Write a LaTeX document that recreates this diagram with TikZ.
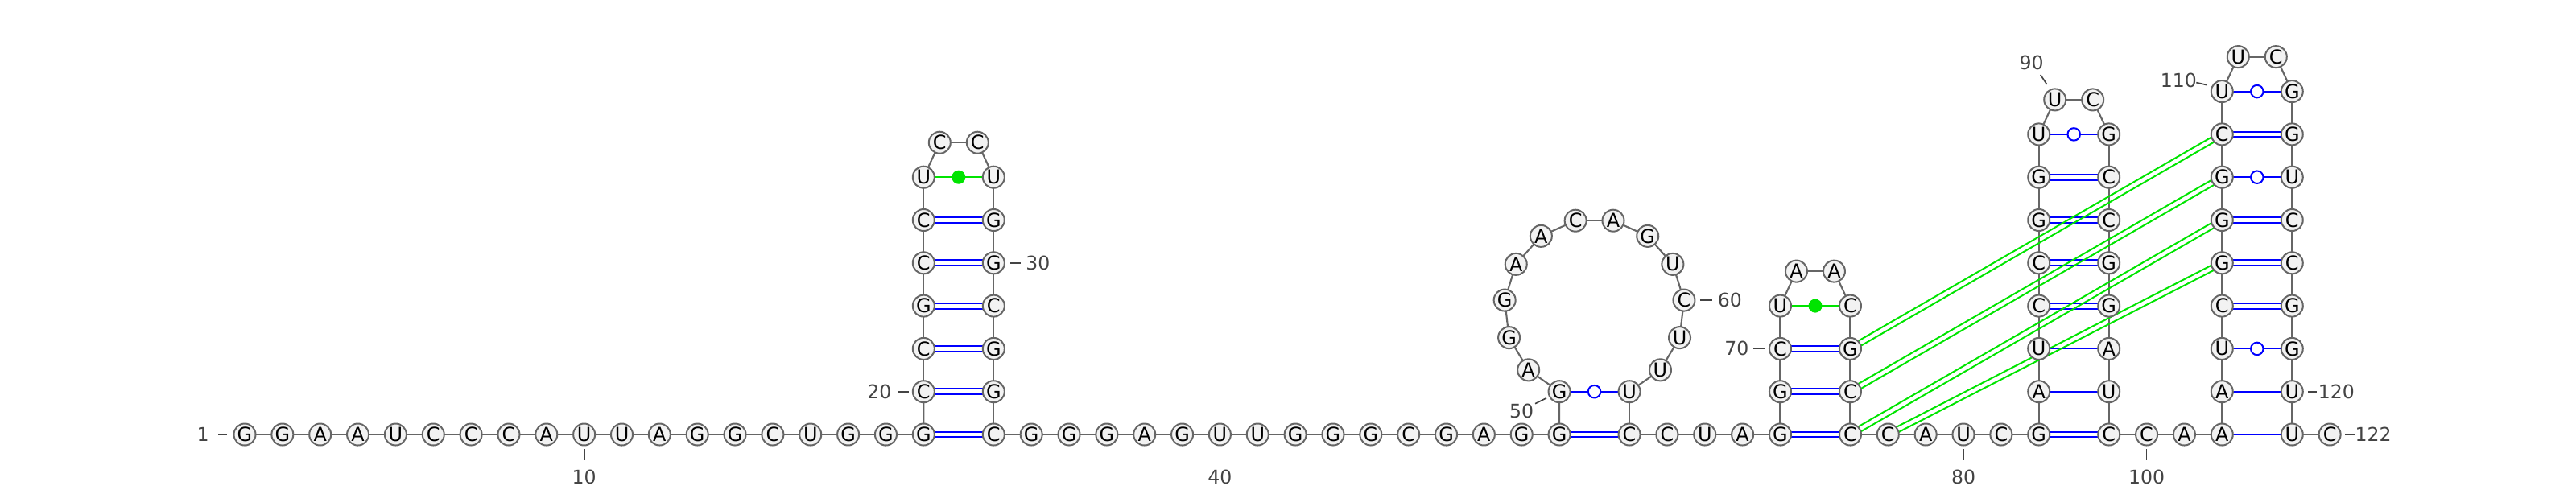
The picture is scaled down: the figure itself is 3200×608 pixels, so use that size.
\documentclass[tikz,border=0pt]{standalone}
\usepackage{fontspec}
\setmainfont{DejaVu Sans}
\usepackage{tikz}
\usetikzlibrary{calc}
\definecolor{ntfill}{HTML}{F2F2F2}
\definecolor{ntline}{HTML}{666666}
\definecolor{ncgreen}{HTML}{00E400}
\definecolor{numgray}{HTML}{444444}
\pgfdeclarelayer{bg}
\pgfsetlayers{bg,main}

\tikzset{
  nt/.style={circle, draw=ntline, fill=ntfill, line width=0.02cm, minimum size=0.27cm, inner sep=0pt, font=\fontsize{6.8}{6.8}\selectfont},
  bb/.style={ntline, line width=0.021cm},
  wcline/.style={blue, line width=0.02cm},
  ncline/.style={ncgreen, line width=0.02cm},
  gudot/.style={circle, draw=blue, fill=white, line width=0.02cm, minimum size=0.155cm, inner sep=0pt},
  ncdot/.style={circle, fill=ncgreen, minimum size=0.17cm, inner sep=0pt},
  numlbl/.style={text=numgray, font=\fontsize{6.7}{6.7}\selectfont, inner sep=0pt},
  tickline/.style={numgray, line width=0.017cm},
}

% base pair connectors
\newcommand{\wcpair}[2]{%
  \draw[wcline] ([yshift=0.034cm]n#1.center) -- ([yshift=0.034cm]n#2.center);
  \draw[wcline] ([yshift=-0.034cm]n#1.center) -- ([yshift=-0.034cm]n#2.center);}
\newcommand{\aupair}[2]{\draw[wcline] (n#1.center) -- (n#2.center);}
\newcommand{\gupair}[2]{\draw[wcline] (n#1.center) -- (n#2.center) node[gudot, midway] {};}
\newcommand{\ncpair}[2]{\draw[ncline] (n#1.center) -- (n#2.center) node[ncdot, midway] {};}
\newcommand{\pkpair}[2]{%
  \draw[ncline] ($(n#1.center)!0.034cm!90:(n#2.center)$) -- ($(n#2.center)!0.034cm!-90:(n#1.center)$);
  \draw[ncline] ($(n#1.center)!0.034cm!-90:(n#2.center)$) -- ($(n#2.center)!0.034cm!90:(n#1.center)$);}

\begin{document}
\begin{tikzpicture}[x=0.01cm, y=-0.01cm]
  \useasboundingbox (0,0) rectangle (3200,608);

  % 5' strand 1-19
  \foreach \b [count=\k from 1] in {G,G,A,A,U,C,C,C,A,U,U,A,G,G,C,U,G,G,G}
    \node[nt] (n\k) at ({304+(\k-1)*46.85}, 540) {\b};

  % hairpin 1: 20-34
  \foreach \b [count=\k from 20] in {C,C,G,C,C,U}
    \node[nt] (n\k) at (1147.3, {540-(\k-19)*53.3}) {\b};
  \node[nt] (n26) at (1167.3, 177.2) {C};
  \node[nt] (n27) at (1214.3, 177.2) {C};
  \foreach \b [count=\k from 28] in {U,G,G,C,G,G,C}
    \node[nt] (n\k) at (1234.3, {540-(34-\k)*53.3}) {\b};

  % strand 35-49
  \foreach \b [count=\k from 35] in {G,G,G,A,G,U,U,G,G,G,C,G,A,G,G}
    \node[nt] (n\k) at ({1234.3+(\k-34)*46.85}, 540) {\b};

  % big loop 50-63
  \node[nt] (n50) at (1937.05, 486.7) {G};
  \foreach \b [count=\k from 51] in {A,G,G,A,A,C,A,G,U,C,U,U}
    \node[nt] (n\k) at ({1980.55+111.9*cos(247.12-(\k-50)*24.172)}, {383.6-111.9*sin(247.12-(\k-50)*24.172)}) {\b};
  \node[nt] (n63) at (2024.05, 486.7) {U};

  % strand 64-68
  \foreach \b [count=\k from 64] in {C,C,U,A,G}
    \node[nt] (n\k) at ({2024.05+(\k-64)*46.85}, 540) {\b};

  % hairpin 2: 69-77
  \foreach \b [count=\k from 69] in {G,C,U}
    \node[nt] (n\k) at (2211.45, {540-(\k-68)*53.3}) {\b};
  \node[nt] (n72) at (2231.45, 337.1) {A};
  \node[nt] (n73) at (2278.45, 337.1) {A};
  \foreach \b [count=\k from 74] in {C,G,C,C}
    \node[nt] (n\k) at (2298.45, {540-(77-\k)*53.3}) {\b};

  % strand 78-82
  \foreach \b [count=\k from 78] in {C,A,U,C,G}
    \node[nt] (n\k) at ({2298.45+(\k-77)*46.85}, 540) {\b};

  % hairpin 3: 83-99
  \foreach \b [count=\k from 83] in {A,U,C,C,G,G,U}
    \node[nt] (n\k) at (2532.7, {540-(\k-82)*53.3}) {\b};
  \node[nt] (n90) at (2552.7, 123.9) {U};
  \node[nt] (n91) at (2599.7, 123.9) {C};
  \foreach \b [count=\k from 92] in {G,C,C,G,G,A,U,C}
    \node[nt] (n\k) at (2619.7, {540-(99-\k)*53.3}) {\b};

  % strand 100-102
  \foreach \b [count=\k from 100] in {C,A,A}
    \node[nt] (n\k) at ({2619.7+(\k-99)*46.85}, 540) {\b};

  % hairpin 4: 103-121, 3' end 122
  \foreach \b [count=\k from 103] in {A,U,C,G,G,G,C,U}
    \node[nt] (n\k) at (2760.25, {540-(\k-102)*53.3}) {\b};
  \node[nt] (n111) at (2780.25, 70.6) {U};
  \node[nt] (n112) at (2827.25, 70.6) {C};
  \foreach \b [count=\k from 113] in {G,G,U,C,C,G,G,U,U}
    \node[nt] (n\k) at (2847.25, {540-(121-\k)*53.3}) {\b};
  \node[nt] (n122) at (2894.1, 540) {C};

  \begin{pgfonlayer}{bg}
    % backbone
    \foreach \i [evaluate=\i as \j using int(\i+1)] in {1,...,121}
      \draw[bb] (n\i.center) -- (n\j.center);
    % pairs
    \foreach \a/\c in {19/34,20/33,21/32,22/31,23/30,24/29,49/64,68/77,69/76,70/75,
                       82/99,85/96,86/95,87/94,88/93,105/118,106/117,107/116,109/114}
      {\wcpair{\a}{\c}}
    \foreach \a/\c in {83/98,84/97,102/121,103/120}
      {\aupair{\a}{\c}}
    \foreach \a/\c in {50/63,89/92,104/119,108/115,110/113}
      {\gupair{\a}{\c}}
    \ncpair{25}{28}
    \ncpair{71}{74}
    % pseudoknot
    \foreach \a/\c in {75/109,76/108,77/107,78/106}
      {\pkpair{\a}{\c}}
  \end{pgfonlayer}

  % numbering
  \node[numlbl] (l1) at ($(n1)+(-52,0)$) {1};
  \draw[tickline] ($(n1)+(-33,0)$) -- ($(n1)+(-22,0)$);
  \node[numlbl] (l20) at ($(n20)+(-55,0)$) {20};
  \draw[tickline] ($(n20)+(-32,0)$) -- ($(n20)+(-18,0)$);
  \node[numlbl] (l70) at ($(n70)+(-54,0)$) {70};
  \draw[tickline] ($(n70)+(-33,0)$) -- ($(n70)+(-19,0)$);
  \node[numlbl] (l30) at ($(n30)+(55,0)$) {30};
  \draw[tickline] ($(n30)+(21,0)$) -- ($(n30)+(34,0)$);
  \node[numlbl] (l60) at ($(n60)+(57,0)$) {60};
  \draw[tickline] ($(n60)+(20,0)$) -- ($(n60)+(35,0)$);
  \node[numlbl] (l120) at ($(n120)+(55,0)$) {120};
  \draw[tickline] ($(n120)+(20,0)$) -- ($(n120)+(31,0)$);
  \node[numlbl] (l122) at ($(n122)+(54,0)$) {122};
  \draw[tickline] ($(n122)+(19,0)$) -- ($(n122)+(31,0)$);
  \foreach \k in {10,40,80,100} {
    \node[numlbl] (l\k) at ($(n\k)+(0,53)$) {\k};
    \draw[tickline] ($(n\k)+(0,18)$) -- ($(n\k)+(0,32)$);
  }
  \node[numlbl] (l50) at ($(n50)+(-47,24)$) {50};
  \draw[tickline] ($(n50)+(-30,15)$) -- ($(n50)+(-16,8)$);
  \node[numlbl] (l90) at ($(n90)+(-29,-46)$) {90};
  \draw[tickline] ($(n90)+(-18,-31)$) -- ($(n90)+(-10,-19)$);
  \node[numlbl] (l110) at ($(n110)+(-54,-14)$) {110};
  \draw[tickline] ($(n110)+(-32,-11)$) -- ($(n110)+(-19,-8)$);
\end{tikzpicture}
\end{document}
